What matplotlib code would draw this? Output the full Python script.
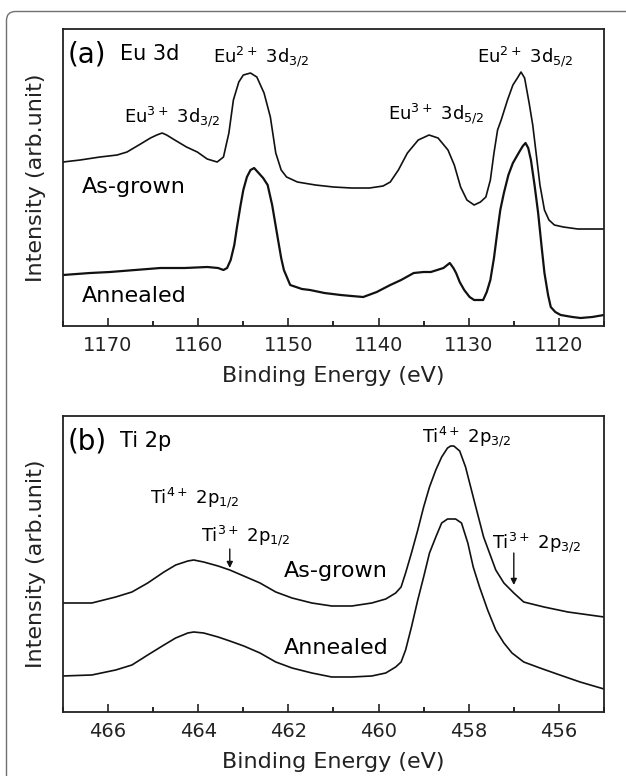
import matplotlib
matplotlib.use("Agg")
import matplotlib.pyplot as plt
from matplotlib.patches import PathPatch
from matplotlib.path import Path
from matplotlib.ticker import MultipleLocator

plt.rcParams['font.family'] = ['DejaVu Sans']
plt.rcParams['mathtext.fontset'] = 'dejavusans'

# ---- (a) Eu 3d spectra, binding energy (eV) vs intensity (arb.)
eu_asgrown_e = [1175, 1173.1, 1170.9, 1169.0, 1167.9, 1166.4, 1165.3, 1164.6, 1164.0, 1163.5,
                1162.6, 1161.3, 1160.1, 1159.0, 1157.9, 1157.2, 1156.6, 1156.1, 1155.5, 1155.0,
                1154.2, 1153.5, 1152.7, 1152.0, 1151.4, 1150.8, 1150.2, 1149, 1147,
                1145, 1143, 1141, 1139.5, 1138.7, 1137.8, 1136.8, 1135.6, 1134.4, 1133.4,
                1132.3, 1131.6, 1130.9, 1130.2, 1129.4, 1128.7, 1128.1, 1127.6, 1127.2, 1126.8,
                1126.4, 1125.7, 1125.1, 1124.6, 1124.2, 1123.8, 1123.3, 1122.9, 1122.5, 1122.1,
                1121.6, 1121.1, 1120.5, 1119.5, 1117.9, 1116.5, 1115]
eu_asgrown_i = [164, 166, 169, 171, 174, 182, 188, 191, 193, 191,
                186, 179, 174, 167, 164, 169, 193, 226, 244, 251,
                253, 249, 233, 209, 173, 156, 149, 144, 141,
                139, 138, 138, 140, 144, 156, 173, 186, 191, 188,
                176, 161, 139, 126, 121, 124, 129, 146, 173, 196,
                206, 226, 241, 248, 254, 248, 223, 201, 171, 141,
                116, 106, 101, 99, 97, 97, 97]

eu_annealed_e = [1175, 1173.5, 1172, 1169.8, 1167, 1164.2, 1161.5, 1159, 1157.8, 1157.2,
                 1156.8, 1156.4, 1156, 1155.7, 1155.3, 1155, 1154.6, 1154.2, 1153.8, 1153.4,
                 1152.8, 1152.3, 1151.8, 1151.2, 1150.8, 1150.5, 1149.8, 1148.5, 1147.6, 1146,
                 1144.2, 1143, 1141.7, 1140.2, 1138.7, 1137.5, 1136.1, 1135, 1134.2, 1133.5,
                 1132.8, 1132.1, 1131.7, 1131.4, 1131, 1130.5, 1129.9, 1129.4, 1128.4, 1128,
                 1127.6, 1127.2, 1126.8, 1126.5, 1126.1, 1125.6, 1125.1, 1124.4, 1124, 1123.7,
                 1123.4, 1123.1, 1122.7, 1122.3, 1121.9, 1121.6, 1121.2, 1120.9, 1120.4, 1119.8,
                 1118.5, 1117.6, 1116.3, 1115]
eu_annealed_i = [51, 52, 53, 54, 56, 58, 58, 59, 58, 56,
                 58, 66, 81, 99, 121, 136, 149, 156, 158, 154,
                 148, 141, 121, 89, 68, 56, 41, 37, 36, 33,
                 31, 30, 29, 34, 41, 46, 53, 54, 54, 56,
                 58, 63, 58, 53, 44, 36, 29, 26, 26, 34,
                 46, 68, 96, 116, 133, 151, 163, 174, 180, 183,
                 178, 166, 141, 113, 78, 53, 31, 19, 14, 11,
                 9, 8, 9, 11]

# ---- (b) Ti 2p spectra
ti_asgrown_e = [467, 466.36, 465.83, 465.47, 465.12, 464.76, 464.5, 464.23, 464.1, 463.88,
                463.56, 463.3, 462.99, 462.63, 462.28, 461.92, 461.48, 461.04, 460.59, 460.15,
                459.84, 459.62, 459.5, 459.4, 459.27, 459.13, 459.0, 458.87, 458.73, 458.6,
                458.47, 458.4, 458.33, 458.2, 458.07, 457.9, 457.67, 457.4, 457.22, 457.0,
                456.78, 456.33, 455.8, 455]
ti_asgrown_i = [109, 109, 115, 120, 129, 140, 147, 151, 152, 150,
                146, 142, 136, 129, 120, 114, 109, 106, 106, 109,
                113, 119, 125, 139, 159, 182, 205, 225, 242, 255,
                264, 266, 266, 261, 245, 215, 175, 142, 129, 119,
                110, 105, 100, 95]

ti_annealed_e = [467, 466.36, 465.83, 465.47, 465.12, 464.76, 464.5, 464.23, 464.1, 463.88,
                 463.56, 463.3, 462.99, 462.63, 462.28, 461.92, 461.48, 461.04, 460.59, 460.15,
                 459.84, 459.62, 459.5, 459.4, 459.27, 459.13, 459.0, 458.87, 458.73, 458.6,
                 458.47, 458.29, 458.16, 458.02, 457.9, 457.76, 457.58, 457.4, 457.22, 457.04,
                 456.78, 456.42, 455.98, 455.53, 455]
ti_annealed_i = [36, 37, 42, 47, 57, 67, 74, 79, 80, 79,
                 75, 71, 66, 59, 50, 44, 39, 35, 35, 36,
                 39, 45, 50, 62, 85, 112, 135, 159, 175, 189,
                 193, 193, 189, 169, 145, 125, 102, 82, 69, 59,
                 50, 44, 37, 30, 23]

eu_ticks = [1170, 1160, 1150, 1140, 1130, 1120]
ti_ticks = [466, 464, 462, 460, 458, 456]

W, H = 626, 776
fig = plt.figure(figsize=(W / 100, H / 100), dpi=100)

# outer frame: only the left and top edges (with a rounded corner) are in view
x0, yt, r = 6.5 / W, 1 - 11.5 / H, 9
frame_path = Path([(x0, -0.05), (x0, yt - r / H), (x0, yt), (x0 + r / W, yt), (1.05, yt)],
                  [Path.MOVETO, Path.LINETO, Path.CURVE3, Path.CURVE3, Path.LINETO])
fig.patches.append(PathPatch(frame_path, transform=fig.transFigure, fill=False,
                             edgecolor='#707070', linewidth=1.0, clip_on=False))

ax1 = fig.add_axes([0.1006, 0.5799, 0.8642, 0.3827])
ax2 = fig.add_axes([0.1006, 0.0825, 0.8642, 0.3814])

for ax in (ax1, ax2):
    for sp in ax.spines.values():
        sp.set_linewidth(1.3)
        sp.set_color('#222222')
    ax.set_yticks([])
    ax.tick_params(axis='x', which='major', direction='in', length=6, width=1.2,
                   labelsize=14, pad=7, colors='#222222')
    ax.tick_params(axis='x', which='minor', direction='in', length=3.5, width=1.2)
    ax.set_ylabel("Intensity (arb.unit)", fontsize=16, labelpad=12, color='#222222')
    ax.set_xlabel("Binding Energy (eV)", fontsize=16, labelpad=8, color='#222222')

# panel (a)
ax1.plot(eu_asgrown_e, eu_asgrown_i, color='#111111', lw=1.2)
ax1.plot(eu_annealed_e, eu_annealed_i, color='#111111', lw=1.6)
ax1.set_xlim(1175, 1115)
ax1.set_ylim(0, 297)
ax1.set_xticks(eu_ticks)
ax1.xaxis.set_minor_locator(MultipleLocator(5))

ax1.text(0.008, 0.915, "(a)", transform=ax1.transAxes, fontsize=20, va='center', ha='left')
ax1.text(0.105, 0.915, "Eu 3d", transform=ax1.transAxes, fontsize=15, va='center', ha='left')
ax1.text(1158.4, 264, r"Eu$^{2+}$ 3d$_{3/2}$", fontsize=13, va='baseline', ha='left')
ax1.text(1129.1, 264, r"Eu$^{2+}$ 3d$_{5/2}$", fontsize=13, va='baseline', ha='left')
ax1.text(1168.2, 204, r"Eu$^{3+}$ 3d$_{3/2}$", fontsize=13, va='baseline', ha='left')
ax1.text(1139.0, 207, r"Eu$^{3+}$ 3d$_{5/2}$", fontsize=13, va='baseline', ha='left')
ax1.text(1172.9, 133, "As-grown", fontsize=16, va='baseline', ha='left')
ax1.text(1172.9, 24, "Annealed", fontsize=16, va='baseline', ha='left')

# panel (b)
ax2.plot(ti_asgrown_e, ti_asgrown_i, color='#111111', lw=1.2)
ax2.plot(ti_annealed_e, ti_annealed_i, color='#111111', lw=1.2)
ax2.set_xlim(467, 455)
ax2.set_ylim(0, 296)
ax2.set_xticks(ti_ticks)
ax2.xaxis.set_minor_locator(MultipleLocator(1))

ax2.text(0.008, 0.915, "(b)", transform=ax2.transAxes, fontsize=20, va='center', ha='left')
ax2.text(0.105, 0.915, "Ti 2p", transform=ax2.transAxes, fontsize=15, va='center', ha='left')
ax2.text(459.04, 270, r"Ti$^{4+}$ 2p$_{3/2}$", fontsize=13, va='baseline', ha='left')
ax2.text(465.07, 209, r"Ti$^{4+}$ 2p$_{1/2}$", fontsize=13, va='baseline', ha='left')
ax2.text(463.93, 170, r"Ti$^{3+}$ 2p$_{1/2}$", fontsize=13, va='baseline', ha='left')
ax2.text(457.49, 163, r"Ti$^{3+}$ 2p$_{3/2}$", fontsize=13, va='baseline', ha='left')
ax2.text(462.11, 135, "As-grown", fontsize=16, va='baseline', ha='left')
ax2.text(462.11, 58, "Annealed", fontsize=16, va='baseline', ha='left')

arrow = dict(arrowstyle='-|>', color='#111111', lw=1.0, mutation_scale=9,
             shrinkA=0, shrinkB=0)
ax2.annotate("", xy=(463.3, 144), xytext=(463.3, 163), arrowprops=arrow)
ax2.annotate("", xy=(457.0, 127), xytext=(457.0, 159), arrowprops=arrow)

fig.savefig("out.png", dpi=100)
